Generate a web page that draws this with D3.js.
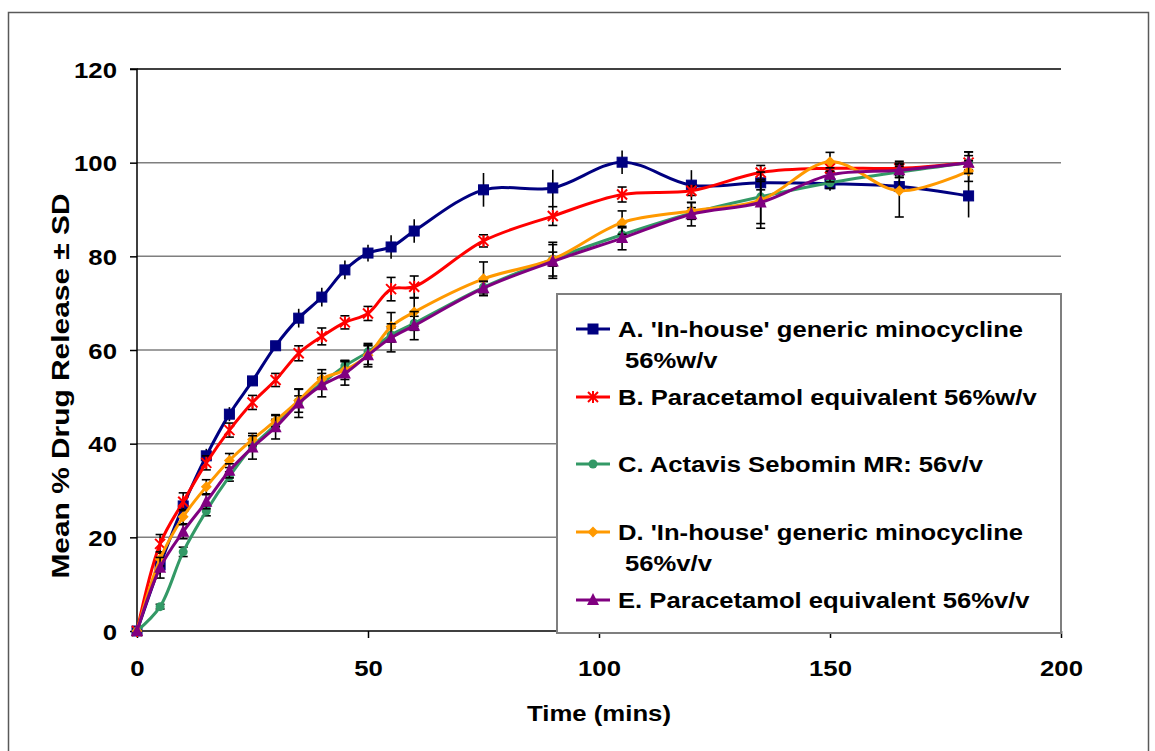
<!DOCTYPE html>
<html>
<head>
<meta charset="utf-8">
<script src="https://cdn.jsdelivr.net/npm/d3@7"></script>
<style>
  html, body { margin: 0; padding: 0; background: #fff; }
  svg text { font-family: "Liberation Sans", Arial, sans-serif; font-weight: bold; fill: #000; }
</style>
</head>
<body>
<svg id="chart" width="1155" height="751"></svg>
<script>
// Sampling times (minutes)
const times = [0, 5, 10, 15, 20, 25, 30, 35, 40, 45, 50, 55, 60, 75, 90, 105, 120, 135, 150, 165, 180];

// Mean % drug release for each formulation
const seriesA = [0, 14.1, 26.7, 37.4, 46.3, 53.4, 60.9, 66.8, 71.3, 77.1, 80.7, 82.0, 85.4, 94.2, 94.6, 100.1, 95.2, 95.7, 95.5, 94.9, 92.9];
const seriesB = [0, 18.6, 27.6, 35.9, 42.9, 48.8, 53.6, 59.3, 62.9, 65.9, 67.8, 73.0, 73.5, 83.3, 88.6, 93.2, 94.0, 97.9, 98.8, 98.8, 100.0];
const seriesC = [0, 5.2, 16.9, 25.6, 33.0, 39.4, 44.0, 49.0, 52.9, 56.6, 59.6, 63.2, 65.7, 73.4, 79.4, 84.6, 89.2, 92.7, 95.7, 98.0, 100.0];
const seriesD = [0, 15.4, 24.4, 30.8, 36.4, 40.9, 44.9, 49.2, 53.8, 55.7, 58.9, 65.0, 68.1, 75.2, 79.4, 87.2, 89.7, 92.0, 100.2, 94.0, 98.2];
const seriesE = [0, 13.5, 21.2, 27.6, 34.2, 39.2, 43.5, 48.6, 52.5, 55.0, 58.9, 62.6, 65.2, 73.2, 78.9, 83.9, 89.0, 91.5, 97.4, 98.4, 100.0];

// Standard deviations
const sdA = [0, 2, 2, 1.5, 1.5, 1, 1, 2, 2, 2, 1.8, 2.5, 2.5, 3.6, 3.9, 2.5, 3.2, 2, 1.5, 1.5, 4.6];
const sdB = [0, 2, 1.9, 1.5, 1.5, 1.5, 1.4, 1.6, 1.8, 1.4, 1.5, 2.5, 2.3, 1.3, 2.0, 1.6, 1, 1.5, 1, 1.5, 2.3];
const sdC = [0, 0.5, 1, 1, 1, 1, 1.2, 1.2, 1.2, 1.2, 1.5, 1.5, 1.5, 1.2, 1.5, 1.5, 1.2, 1.5, 1.2, 1.2, 1.5];
const sdD = [0, 1.5, 1.5, 1.5, 1.5, 1.3, 1.3, 2.5, 2, 2, 2, 3, 3, 3.6, 3.6, 2.5, 1.8, 6, 2, 5.6, 2.2];
const sdE = [0, 2.2, 1.5, 1.5, 1.5, 2.5, 2.5, 3, 2.5, 2.5, 2.5, 3, 3, 1.5, 3.6, 2.5, 2.5, 4.5, 1.5, 1.5, 2.3];

// Legend labels (two-line entries split where they wrap)
const labelsA = ["A. 'In-house' generic minocycline", "56%w/v"];
const labelsB = ["B. Paracetamol equivalent 56%w/v"];
const labelsC = ["C. Actavis Sebomin MR: 56v/v"];
const labelsD = ["D. 'In-house' generic minocycline", "56%v/v"];
const labelsE = ["E. Paracetamol equivalent 56%v/v"];

// Axis ticks and titles
const xTicks = [0, 50, 100, 150, 200];
const yTicks = [0, 20, 40, 60, 80, 100, 120];
const xTitle = "Time (mins)";
const yTitle = "Mean % Drug Release \u00B1 SD";

const series = [
  { key: "A", values: seriesA, sd: sdA, label: labelsA, color: "#000080", marker: "square", caps: false },
  { key: "B", values: seriesB, sd: sdB, label: labelsB, color: "#FF0000", marker: "star", caps: true },
  { key: "C", values: seriesC, sd: sdC, label: labelsC, color: "#339966", marker: "circle", caps: true },
  { key: "D", values: seriesD, sd: sdD, label: labelsD, color: "#FF9900", marker: "diamond", caps: true },
  { key: "E", values: seriesE, sd: sdE, label: labelsE, color: "#800080", marker: "triangle", caps: true }
];

// The chart font is set a little wider than Liberation Sans Bold
const WIDEN = 1.12;

const svg = d3.select("#chart");

// Outer chart frame
svg.append("rect")
  .attr("x", 8.5).attr("y", 12.5).attr("width", 1140).attr("height", 760)
  .attr("fill", "#fff").attr("stroke", "#595959").attr("stroke-width", 1.5);

const x = d3.scaleLinear().domain([0, 200]).range([137, 1061]);
const y = d3.scaleLinear().domain([0, 120]).range([631, 69]);

// Horizontal gridlines
svg.append("g").selectAll("line")
  .data(yTicks.filter(d => d > 0))
  .join("line")
  .attr("x1", x(0)).attr("x2", x(200))
  .attr("y1", d => y(d)).attr("y2", d => y(d))
  .attr("stroke", d => d === 120 ? "#000" : "#7f7f7f")
  .attr("stroke-width", 1.5);

// Y axis
const yAxis = d3.axisLeft(y).tickValues(yTicks).tickSize(7).tickPadding(0).tickFormat(d3.format("d"));
const gy = svg.append("g").attr("transform", `translate(${x(0)},0)`).call(yAxis);
gy.select(".domain").attr("stroke", "#000").attr("stroke-width", 1.5).attr("d", `M-7,${y(120)}H0V${y(0)}`);
gy.selectAll(".tick line").attr("stroke", "#000").attr("stroke-width", 1.5);
gy.selectAll(".tick text")
  .attr("font-family", null).attr("font-size", null)
  .style("font-size", "23px").style("font-weight", "bold")
  .attr("x", 0).attr("dy", "0.36em")
  .attr("transform", `translate(-20,0) scale(${WIDEN},1)`);

// X axis
const xAxis = d3.axisBottom(x).tickValues(xTicks).tickSize(7).tickPadding(0).tickFormat(d3.format("d"));
const gx = svg.append("g").attr("transform", `translate(0,${y(0)})`).call(xAxis);
gx.select(".domain").attr("stroke", "#000").attr("stroke-width", 1.5).attr("d", `M${x(0)},0H${x(200)}`);
gx.selectAll(".tick line").attr("stroke", "#000").attr("stroke-width", 1.5);
gx.selectAll(".tick text")
  .attr("font-family", null).attr("font-size", null)
  .style("font-size", "23px").style("font-weight", "bold")
  .attr("y", 0).attr("dy", null)
  .attr("transform", `translate(0,45) scale(${WIDEN},1)`);

// Axis titles
svg.append("text")
  .attr("transform", `translate(${(x(0) + x(200)) / 2},721) scale(${WIDEN},1)`)
  .attr("text-anchor", "middle").style("font-size", "23px")
  .text(xTitle);
svg.append("text")
  .attr("transform", `translate(69,386) rotate(-90) scale(1.3,1)`)
  .attr("text-anchor", "middle").style("font-size", "23px")
  .text(yTitle);

// Marker drawing
function drawMarker(g, type, color) {
  switch (type) {
    case "square":
      g.append("rect").attr("x", -5).attr("y", -5).attr("width", 10).attr("height", 10)
        .attr("fill", color).attr("stroke", color).attr("stroke-width", 1);
      break;
    case "star":
      g.append("path").attr("d", "M-5,-5L5,5M-5,5L5,-5M0,-6V6")
        .attr("stroke", color).attr("stroke-width", 2).attr("fill", "none");
      break;
    case "circle":
      g.append("circle").attr("r", 4.5).attr("fill", color);
      break;
    case "diamond":
      g.append("path").attr("d", "M0,-5.5L5.5,0L0,5.5L-5.5,0Z").attr("fill", color);
      break;
    case "triangle":
      g.append("path").attr("d", "M0,-7L6,5L-6,5Z").attr("fill", color);
      break;
  }
}

const line = d3.line()
  .x(d => x(d.t))
  .y(d => y(d.v))
  .curve(d3.curveCatmullRom.alpha(0.5));

const plot = svg.append("g");

series.forEach(s => {
  const pts = times.map((t, i) => ({ t, v: s.values[i], sd: s.sd[i] }));
  const g = plot.append("g");

  // error bars (mean ± SD)
  const eb = g.append("g").attr("stroke", "#000").attr("stroke-width", 1.6);
  pts.filter(p => p.sd > 0).forEach(p => {
    eb.append("line").attr("x1", x(p.t)).attr("x2", x(p.t))
      .attr("y1", y(p.v - p.sd)).attr("y2", y(p.v + p.sd));
    if (s.caps) {
      [p.v - p.sd, p.v + p.sd].forEach(v => {
        eb.append("line").attr("x1", x(p.t) - 4.5).attr("x2", x(p.t) + 4.5)
          .attr("y1", y(v)).attr("y2", y(v));
      });
    }
  });

  g.append("path").datum(pts)
    .attr("d", line).attr("fill", "none")
    .attr("stroke", s.color).attr("stroke-width", 3);

  pts.forEach(p => {
    const m = g.append("g").attr("transform", `translate(${x(p.t)},${y(p.v)})`);
    drawMarker(m, s.marker, s.color);
  });
});

// Legend
const legend = svg.append("g");
legend.append("rect")
  .attr("x", 557).attr("y", 294).attr("width", 504).attr("height", 339)
  .attr("fill", "#fff").attr("stroke", "#7f7f7f").attr("stroke-width", 2);

const legendRows = [329, 397, 464, 532, 600];
series.forEach((s, i) => {
  const ly = legendRows[i];
  const g = legend.append("g");
  g.append("line").attr("x1", 576).attr("x2", 610).attr("y1", ly).attr("y2", ly)
    .attr("stroke", s.color).attr("stroke-width", 3);
  const m = g.append("g").attr("transform", `translate(593,${ly})`);
  drawMarker(m, s.marker, s.color);
  s.label.forEach((txt, j) => {
    g.append("text")
      .attr("transform", `translate(${j === 0 ? 618 : 625},${ly + 8 + j * 31}) scale(1.165,1)`)
      .style("font-size", "22px")
      .text(txt);
  });
});
</script>
</body>
</html>
